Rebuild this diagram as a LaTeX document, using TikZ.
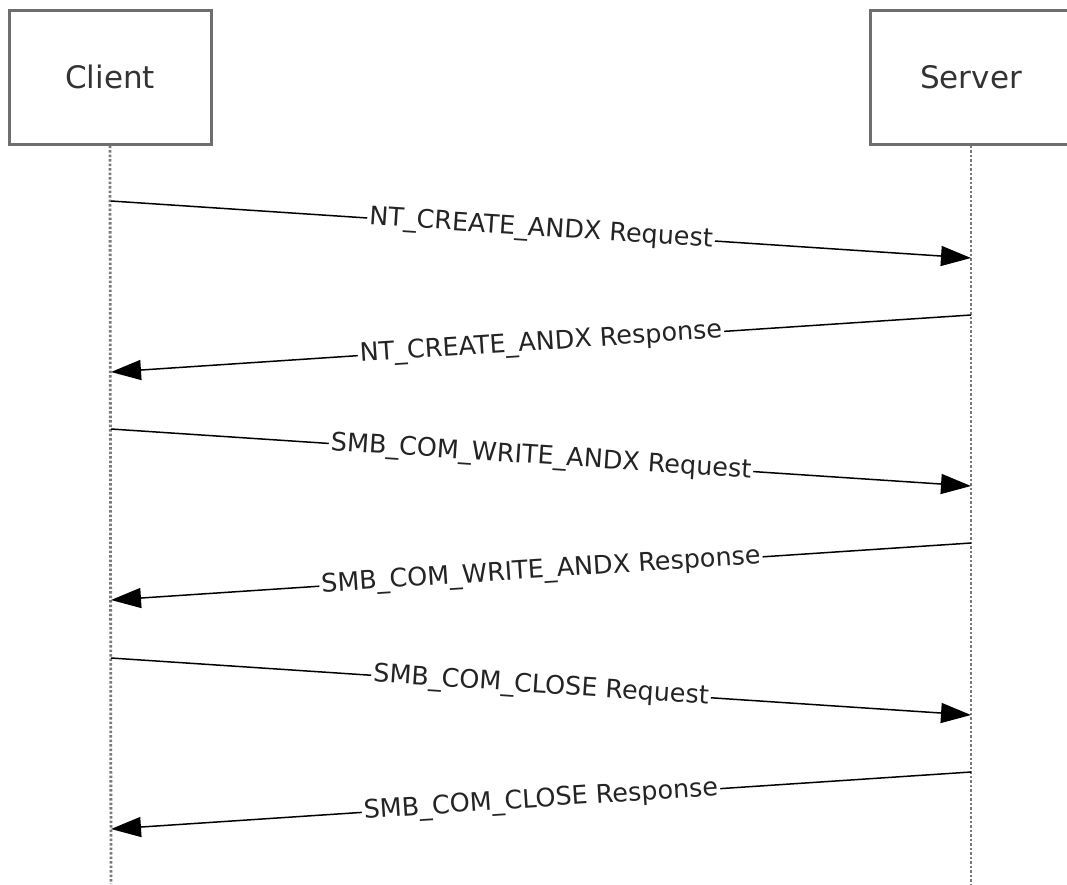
\documentclass[tikz,border=0pt]{standalone}
\usepackage{fontspec}
\setmainfont{DejaVu Sans}
\usetikzlibrary{arrows.meta}
\definecolor{boxgray}{HTML}{6E6E6E}
\definecolor{txtgray}{HTML}{333333}
\definecolor{lifegray}{HTML}{7A7A7A}
\tikzset{
  actor/.style={draw=boxgray, line width=3pt, fill=white, minimum width=202pt, minimum height=134pt, inner sep=0pt, text=txtgray, font=\fontsize{31}{36}\selectfont},
  lifeline/.style={draw=lifegray, line width=2.8pt, dash pattern=on 2.5pt off 2pt},
  msg/.style={draw=black, line width=1.5pt, -{Triangle[length=30pt,width=20pt]}},
  msglabel/.style={midway, sloped, fill=white, inner sep=2pt, text=txtgray!70!black, font=\fontsize{25.5}{30}\selectfont}
}
\begin{document}
\begin{tikzpicture}[x=1pt,y=-1pt]
\useasboundingbox (0,0) rectangle (1067,884);
\clip (0,0) rectangle (1067,884);
% lifelines
\coordinate (cend) at (111,884);
\coordinate (send) at (971,884);
\node[actor] (client) at (110,77) {Client};
\node[actor] (server) at (971,77) {Server};
\draw[lifeline] (client.south) -- (cend);
\draw[lifeline] (server.south) -- (send);
% message end points
\coordinate (c1) at (111,201); \coordinate (s1) at (971,258);
\coordinate (s2) at (971,315); \coordinate (c2) at (111,372);
\coordinate (c3) at (111,429); \coordinate (s3) at (971,486);
\coordinate (s4) at (971,543); \coordinate (c4) at (111,600);
\coordinate (c5) at (111,658); \coordinate (s5) at (971,715);
\coordinate (s6) at (971,772); \coordinate (c6) at (111,829);
\draw[msg] (c1) -- (s1) node[msglabel] {NT\_CREATE\_ANDX Request};
\draw[msg] (s2) -- (c2) node[msglabel] {NT\_CREATE\_ANDX Response};
\draw[msg] (c3) -- (s3) node[msglabel] {SMB\_COM\_WRITE\_ANDX Request};
\draw[msg] (s4) -- (c4) node[msglabel] {SMB\_COM\_WRITE\_ANDX Response};
\draw[msg] (c5) -- (s5) node[msglabel] {SMB\_COM\_CLOSE Request};
\draw[msg] (s6) -- (c6) node[msglabel] {SMB\_COM\_CLOSE Response};
\end{tikzpicture}
\end{document}
